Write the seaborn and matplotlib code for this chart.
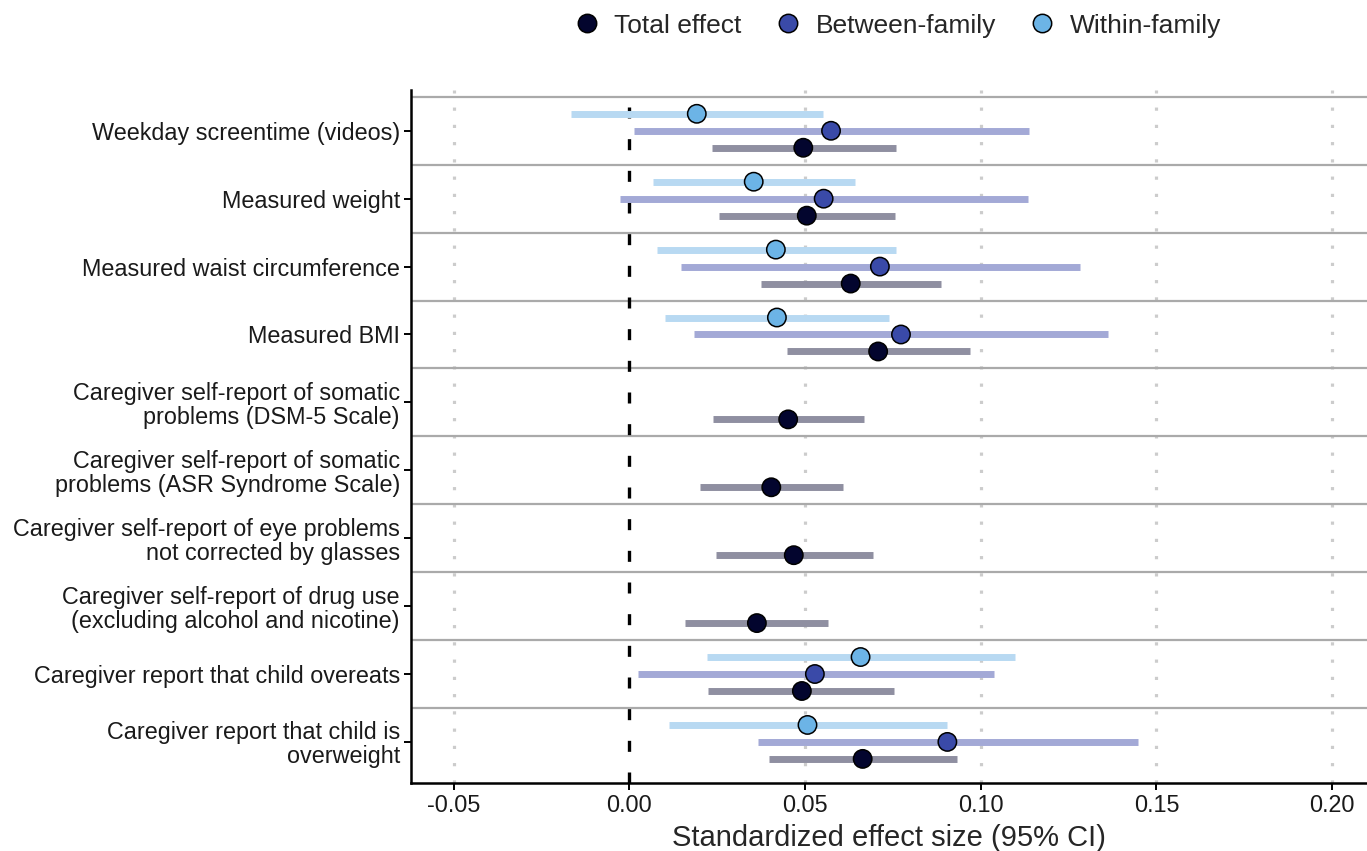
import numpy as np
import pandas as pd
import matplotlib
matplotlib.use("Agg")
import matplotlib.pyplot as plt
import seaborn as sns

labels = [
    "Weekday screentime (videos)",
    "Measured weight",
    "Measured waist circumference",
    "Measured BMI",
    "Caregiver self-report of somatic\nproblems (DSM-5 Scale)",
    "Caregiver self-report of somatic\nproblems (ASR Syndrome Scale)",
    "Caregiver self-report of eye problems\nnot corrected by glasses",
    "Caregiver self-report of drug use\n(excluding alcohol and nicotine)",
    "Caregiver report that child overeats",
    "Caregiver report that child is\noverweight",
]
nan = np.nan
total_est = [0.0495, 0.0505, 0.0630, 0.0708, 0.0452, 0.0404, 0.0468, 0.0363, 0.0491, 0.0664]
total_lo = [0.0234, 0.0256, 0.0375, 0.0450, 0.0238, 0.0200, 0.0247, 0.0159, 0.0224, 0.0398]
total_hi = [0.0758, 0.0755, 0.0887, 0.0968, 0.0668, 0.0609, 0.0693, 0.0565, 0.0752, 0.0931]
between_est = [0.0574, 0.0553, 0.0713, 0.0773, nan, nan, nan, nan, 0.0528, 0.0905]
between_lo = [0.0013, -0.0027, 0.0147, 0.0183, nan, nan, nan, nan, 0.0025, 0.0365]
between_hi = [0.1137, 0.1135, 0.1281, 0.1363, nan, nan, nan, nan, 0.1037, 0.1446]
within_est = [0.0192, 0.0354, 0.0417, 0.0420, nan, nan, nan, nan, 0.0658, 0.0507]
within_lo = [-0.0167, 0.0066, 0.0078, 0.0102, nan, nan, nan, nan, 0.0221, 0.0113]
within_hi = [0.0551, 0.0643, 0.0758, 0.0739, nan, nan, nan, nan, 0.1098, 0.0905]

effects = ["Total effect", "Between-family", "Within-family"]
point_colors = {"Total effect": "#03052e", "Between-family": "#3a4aa8", "Within-family": "#6cb4e6"}
bar_colors = {"Total effect": "#8f8fa1", "Between-family": "#a3a9d6", "Within-family": "#b8d9f2"}
offsets = {"Total effect": 0.25, "Between-family": 0.0, "Within-family": -0.25}

rows = []
series = {
    "Total effect": (total_est, total_lo, total_hi),
    "Between-family": (between_est, between_lo, between_hi),
    "Within-family": (within_est, within_lo, within_hi),
}
for eff in effects:
    est, lo, hi = series[eff]
    for i, lab in enumerate(labels):
        if not np.isnan(est[i]):
            rows.append(dict(label=lab, idx=i, effect=eff, est=est[i], lo=lo[i], hi=hi[i],
                             ypos=i + offsets[eff]))
df = pd.DataFrame(rows)

sns.set_style("white")
plt.rcParams["font.family"] = ["Liberation Sans", "DejaVu Sans"]

fig = plt.figure(figsize=(13.67, 8.51), dpi=100)
ax = fig.add_axes([0.3007, 0.0803, 0.6993, 0.8139])

# grid lines
for xv in [-0.05, 0.05, 0.10, 0.15, 0.20]:
    ax.axvline(xv, color="#cccccc", lw=2.3, linestyle=(0, (1.0, 4.4)),
               dash_capstyle="butt", zorder=0)
for k in range(len(labels)):
    ax.axhline(k - 0.5, color="#aaaaaa", lw=1.6, zorder=1)
ax.axvline(0, color="black", lw=2.4, linestyle=(0, (3.3, 6.2)), zorder=2)

# CI bars
for eff in effects:
    sub = df[df.effect == eff]
    ax.hlines(sub.ypos, sub.lo, sub.hi, color=bar_colors[eff], lw=5, zorder=3)

sns.scatterplot(data=df, x="est", y="ypos", hue="effect", hue_order=effects,
                palette=point_colors, s=175, edgecolor="black", linewidth=1.1,
                zorder=4, ax=ax, legend=True)

handles, leg_labels = ax.get_legend_handles_labels()
ax.get_legend().remove()
fig.legend(handles, leg_labels, loc="upper center", bbox_to_anchor=(0.6565, 1.012), ncol=3,
           frameon=False, fontsize=19, handlelength=1.0, handletextpad=0.55,
           columnspacing=1.25, markerscale=1.0)

ax.set_xlim(-0.0621, 0.2099)
ax.set_ylim(9.6, -0.6)
ax.set_yticks(range(len(labels)))
ax.set_yticklabels(labels, fontsize=16.8, linespacing=1.05)
ax.set_xticks([-0.05, 0.0, 0.05, 0.10, 0.15, 0.20])
ax.set_xticklabels(["-0.05", "0.00", "0.05", "0.10", "0.15", "0.20"], fontsize=16.8)
ax.set_xlabel("Standardized effect size (95% CI)", fontsize=21, labelpad=5)
ax.set_ylabel("")
ax.tick_params(axis="both", which="both", length=5, width=1.4, color="black",
               left=True, bottom=True, pad=3, labelcolor="#1a1a1a")
sns.despine(ax=ax, top=True, right=True)
for sp in ["left", "bottom"]:
    ax.spines[sp].set_color("black")
    ax.spines[sp].set_linewidth(1.8)

fig.savefig("out.png", dpi=100)
